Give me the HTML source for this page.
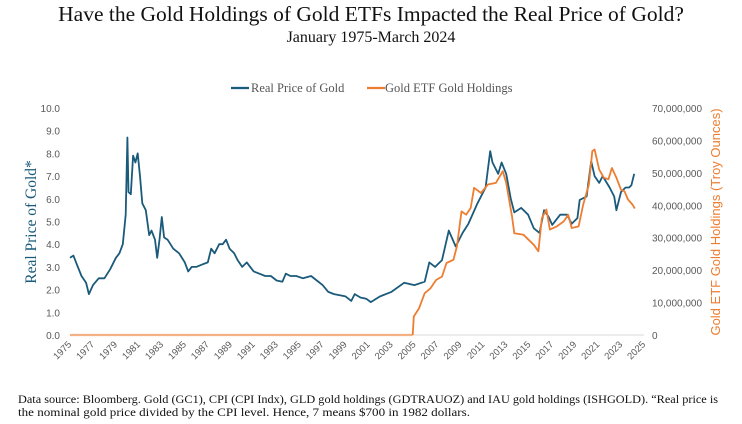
<!DOCTYPE html>
<html><head><meta charset="utf-8"><style>
body{margin:0;background:#fff;width:742px;height:424px;overflow:hidden;font-family:"Liberation Serif",serif}
svg{position:absolute;left:0;top:0}
</style></head><body>
<svg id="c" width="742" height="424">
<text x="371" y="21" text-anchor="middle" font-size="21.5" fill="#111" font-family="Liberation Serif">Have the Gold Holdings of Gold ETFs Impacted the Real Price of Gold?</text>
<text x="371" y="42" text-anchor="middle" font-size="16" fill="#111" font-family="Liberation Serif">January 1975-March 2024</text>
<g>
<line x1="231" y1="88" x2="249" y2="88" stroke="#1a5a7a" stroke-width="2.2"/>
<text x="251" y="92" font-size="12.5" fill="#555">Real Price of Gold</text>
<line x1="367" y1="88" x2="385" y2="88" stroke="#ed7d31" stroke-width="2.2"/>
<text x="385" y="92" font-size="12.5" fill="#555">Gold ETF Gold Holdings</text>
</g>
<text transform="translate(36,222) rotate(-90)" text-anchor="middle" font-size="15.5" fill="#1a5a7a">Real Price of Gold*</text>
<text transform="translate(720,222) rotate(-90)" text-anchor="middle" font-size="13" fill="#ed7d31" font-family="Liberation Sans">Gold ETF Gold Holdings (Troy Ounces)</text>
<g id="axes"></g><g id="series"></g>
<text x="18" y="403" font-size="12" fill="#111" textLength="700" lengthAdjust="spacingAndGlyphs">Data source: Bloomberg. Gold (GC1), CPI (CPI Indx), GLD gold holdings (GDTRAUOZ) and IAU gold holdings (ISHGOLD). “Real price is</text>
<text x="18" y="416" font-size="12" fill="#111" textLength="452" lengthAdjust="spacingAndGlyphs">the nominal gold price divided by the CPI level. Hence, 7 means $700 in 1982 dollars.</text>
</svg>
<script>
const leftTicks=["0.0","1.0","2.0","3.0","4.0","5.0","6.0","7.0","8.0","9.0","10.0"];
const rightTicks=["0","10,000,000","20,000,000","30,000,000","40,000,000","50,000,000","60,000,000","70,000,000"];
const yearTicks=[1975,1977,1979,1981,1983,1985,1987,1989,1991,1993,1995,1997,1999,2001,2003,2005,2007,2009,2011,2013,2015,2017,2019,2021,2023,2025];
const priceYears=[1975.0,1975.3,1975.6,1976.0,1976.4,1976.65,1977.0,1977.5,1978.0,1978.5,1979.0,1979.3,1979.6,1979.85,1980.0,1980.1,1980.3,1980.5,1980.7,1980.9,1981.1,1981.3,1981.6,1981.9,1982.1,1982.4,1982.6,1982.8,1983.0,1983.2,1983.5,1984.0,1984.5,1985.0,1985.3,1985.6,1986.0,1986.5,1987.0,1987.3,1987.6,1988.0,1988.3,1988.6,1988.9,1989.3,1989.6,1990.0,1990.4,1990.7,1991.0,1991.5,1992.0,1992.5,1993.0,1993.5,1993.8,1994.2,1994.7,1995.3,1996.0,1996.5,1997.0,1997.5,1998.0,1998.5,1999.0,1999.5,1999.8,2000.3,2000.8,2001.2,2002.0,2003.0,2004.1,2005.0,2005.9,2006.3,2006.8,2007.4,2008.0,2008.6,2009.2,2009.7,2010.5,2011.2,2011.6,2011.8,2012.3,2012.6,2013.0,2013.4,2013.7,2014.3,2014.9,2015.4,2015.9,2016.3,2016.7,2017.0,2017.7,2018.3,2018.7,2019.2,2019.4,2020.0,2020.4,2020.7,2021.1,2021.4,2022.0,2022.4,2022.6,2023.0,2023.4,2023.7,2023.9,2024.15];
const priceValues=[3.4,3.5,3.1,2.6,2.3,1.8,2.2,2.5,2.5,2.9,3.4,3.6,4.0,5.3,8.7,6.3,6.2,7.9,7.6,8.0,7.0,5.8,5.5,4.4,4.6,4.2,3.4,4.2,5.2,4.3,4.2,3.8,3.6,3.2,2.8,3.0,3.0,3.1,3.2,3.8,3.6,4.0,4.0,4.2,3.8,3.6,3.3,3.0,3.2,3.0,2.8,2.7,2.6,2.6,2.4,2.35,2.7,2.6,2.6,2.5,2.6,2.4,2.2,1.9,1.8,1.75,1.7,1.5,1.8,1.65,1.6,1.45,1.7,1.9,2.3,2.2,2.35,3.2,3.0,3.3,4.6,3.9,4.5,4.9,5.8,6.5,8.1,7.6,7.1,7.6,7.1,6.0,5.4,5.6,5.3,4.7,4.5,5.5,5.2,4.85,5.3,5.3,4.9,5.15,5.95,6.1,7.65,7.0,6.7,7.0,6.5,6.1,5.5,6.3,6.5,6.5,6.6,7.1];
const etfYears=[1975.0,2004.85,2004.95,2005.4,2005.9,2006.4,2006.9,2007.4,2007.8,2008.4,2008.7,2009.1,2009.5,2009.9,2010.2,2010.8,2011.4,2012.1,2012.7,2013.0,2013.5,2013.7,2014.5,2015.4,2015.8,2016.1,2016.5,2016.8,2017.4,2018.0,2018.4,2018.7,2019.3,2019.7,2020.2,2020.5,2020.7,2021.1,2021.5,2021.9,2022.2,2022.6,2023.0,2023.3,2023.6,2024.0,2024.2];
const etfValues=[0,0,5.7,8.2,12.9,14.4,17,18,22.2,23.2,27.3,38.1,37.1,39.2,45.4,43.8,46.4,46.9,50.5,46.9,36.6,31.4,30.9,27.8,25.8,36,38.7,32.5,33.5,35,37.1,33,33.5,40.2,46.4,56.7,57.2,51,48.5,48,51.5,48.5,44.8,44.3,41.8,40.2,39];
const NS="http://www.w3.org/2000/svg";
const X=y=>70+(y-1975)*11.48;
const YL=v=>335-v*22.7;
const YR=m=>335-m*227/70;
const axes=document.getElementById('axes'),series=document.getElementById('series');
function mk(tag,attrs,parent){const e=document.createElementNS(NS,tag);for(const k in attrs)e.setAttribute(k,attrs[k]);parent.appendChild(e);return e;}
leftTicks.forEach((t,i)=>{const e=mk('text',{x:60,y:YL(i)+4,'text-anchor':'end','font-size':10,fill:'#595959','font-family':'Liberation Sans'},axes);e.textContent=t;

});
rightTicks.forEach((t,i)=>{const e=mk('text',{x:652,y:YR(i*10)+4,'font-size':10,fill:'#595959','font-family':'Liberation Sans'},axes);e.textContent=t;

});
yearTicks.forEach(yr=>{const x=X(yr)+2,y=345;const e=mk('text',{x:x,y:y,'text-anchor':'end','font-size':9.5,fill:'#595959','font-family':'Liberation Sans',transform:`rotate(-45 ${x} ${y})`},axes);e.textContent=yr;

});
const ax=mk('line',{x1:70,y1:335,x2:644,y2:335,stroke:'#d9d9d9','stroke-width':1},axes);


const pts=(xs,ys,f)=>xs.map((x,i)=>X(x).toFixed(1)+','+f(ys[i]).toFixed(1)).join(' ');
const base=mk('polyline',{points:pts(etfYears.slice(0,2),etfValues.slice(0,2),YR),fill:'none',stroke:'#f4b183','stroke-width':2.2},series);


const p=mk('polyline',{points:pts(priceYears,priceValues,YL),fill:'none',stroke:'#1a5a7a','stroke-width':1.8,'stroke-linejoin':'round'},series);


const o=mk('polyline',{points:pts(etfYears.slice(1),etfValues.slice(1),YR),fill:'none',stroke:'#ed7d31','stroke-width':1.8,'stroke-linejoin':'round'},series);


</script>
</body></html>
